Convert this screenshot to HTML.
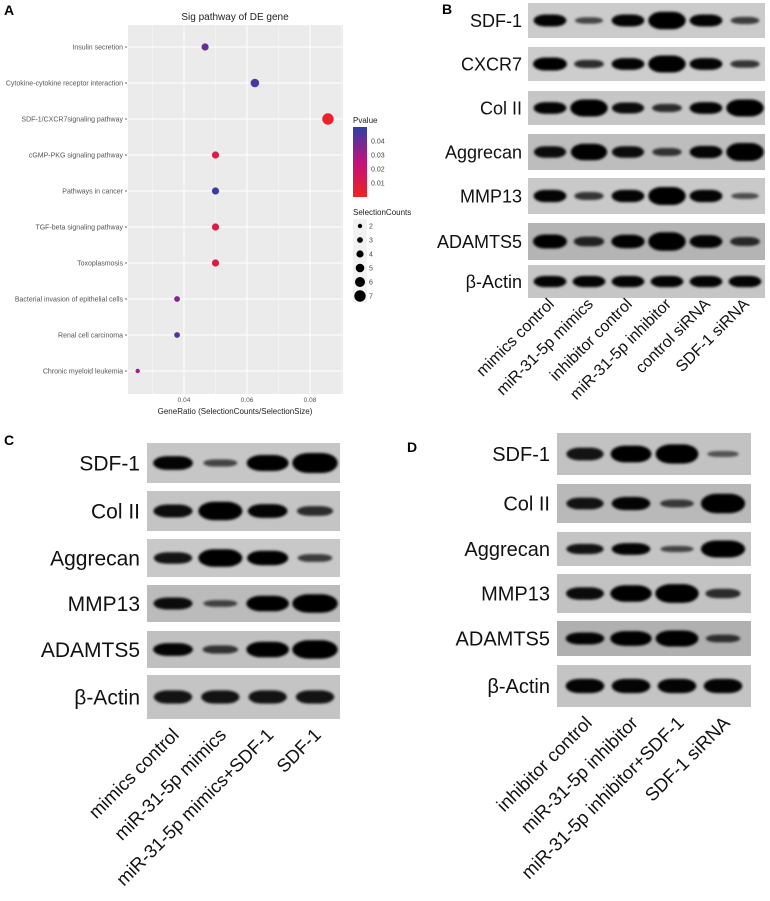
<!DOCTYPE html>
<html><head><meta charset="utf-8"><style>
html,body{margin:0;padding:0;background:#fff;}
svg{display:block;font-family:"Liberation Sans",Arial,sans-serif;}
</style></head><body>
<svg id="fig" width="770" height="901" viewBox="0 0 770 901" xmlns="http://www.w3.org/2000/svg">
<defs>
<filter id="blur" x="-20%" y="-50%" width="140%" height="200%"><feGaussianBlur stdDeviation="1.2"/></filter>
<linearGradient id="pgrad" x1="0" y1="1" x2="0" y2="0">
<stop offset="0" stop-color="#ee2222"/><stop offset="0.5" stop-color="#c0127a"/><stop offset="1" stop-color="#2f3fa8"/>
</linearGradient>
</defs>
<g id="panelA"></g>
<g id="panelB"></g>
<g id="panelC"></g>
<g id="panelD"></g>
</svg>
<script>
// ---------- Panel A data ----------
const pathways = ["Insulin secretion","Cytokine-cytokine receptor interaction","SDF-1/CXCR7signaling pathway","cGMP-PKG signaling pathway","Pathways in cancer","TGF-beta signaling pathway","Toxoplasmosis","Bacterial invasion of epithelial cells","Renal cell carcinoma","Chronic myeloid leukemia"];
const geneRatio = [0.0467,0.0625,0.0857,0.05,0.05,0.05,0.05,0.0378,0.0378,0.0253];
const selCounts = [4,5,7,4,4,4,4,3,3,2];
const pvalues = [0.040,0.045,0.002,0.010,0.048,0.010,0.010,0.036,0.043,0.030];
const xTicks = [0.04,0.06,0.08];
const pTicks = [0.04,0.03,0.02,0.01];
const sizeLegend = [2,3,4,5,6,7];

// ---------- Blot data ----------
const proteinsB = ["SDF-1","CXCR7","Col II","Aggrecan","MMP13","ADAMTS5","β-Actin"];
const lanesB = ["mimics control","miR-31-5p mimics","inhibitor control","miR-31-5p inhibitor","control siRNA","SDF-1 siRNA"];
const intensB = [[0.6,0.2,0.6,1,0.6,0.25],[0.7,0.35,0.6,1,0.6,0.3],[0.6,1,0.55,0.35,0.6,1],[0.55,0.9,0.55,0.3,0.6,1],[0.6,0.3,0.6,1,0.6,0.15],[0.7,0.4,0.65,1,0.6,0.35],[0.6,0.6,0.6,0.6,0.6,0.6]];
const proteinsC = ["SDF-1","Col II","Aggrecan","MMP13","ADAMTS5","β-Actin"];
const lanesC = ["mimics control","miR-31-5p mimics","miR-31-5p mimics+SDF-1","SDF-1"];
const intensC = [[0.6,0.2,0.75,1],[0.55,0.9,0.6,0.35],[0.5,0.9,0.7,0.25],[0.55,0.2,0.8,1],[0.6,0.3,0.8,1],[0.5,0.5,0.5,0.5]];
const proteinsD = ["SDF-1","Col II","Aggrecan","MMP13","ADAMTS5","β-Actin"];
const lanesD = ["inhibitor control","miR-31-5p inhibitor","miR-31-5p inhibitor+SDF-1","SDF-1 siRNA"];
const intensD = [[0.5,0.75,0.9,0.1],[0.5,0.6,0.25,1],[0.5,0.6,0.2,1],[0.55,0.8,0.95,0.35],[0.6,0.8,0.9,0.3],[0.6,0.6,0.6,0.6]];

const NS="http://www.w3.org/2000/svg";
function mk(tag, attrs, parent, text){
  const e=document.createElementNS(NS,tag);
  for(const k in attrs) e.setAttribute(k,attrs[k]);
  if(text!==undefined) e.textContent=text;
  parent.appendChild(e); return e;
}

// ---------- Panel A ----------
(function(){
  const g=document.getElementById('panelA');
  const L=128,R=343,T=25,B=394;
  const xs=v=>184+(v-0.04)*3150;
  const ys=i=>47+i*36;
  const rs=c=>0.8+c*0.7;
  function pcol(p){
    const t=Math.max(0,Math.min(1,p/0.05));
    const stops=[[238,34,34],[192,18,122],[47,63,168]];
    let a,b,u;
    if(t<0.5){a=stops[0];b=stops[1];u=t/0.5;}else{a=stops[1];b=stops[2];u=(t-0.5)/0.5;}
    return `rgb(${a.map((x,i)=>Math.round(x+(b[i]-x)*u)).join(',')})`;
  }
  let e=mk('text',{x:4,y:15,'font-size':14,'font-weight':'bold',fill:'#000'},g,'A');
  
  
  e=mk('text',{x:235,y:20,'font-size':10,'text-anchor':'middle',fill:'#222'},g,'Sig pathway of DE gene');
  
  
  e=mk('rect',{x:L,y:T,width:R-L,height:B-T,fill:'#ebebeb'},g);
  
  
  [0.03,0.05,0.07,0.09].forEach(v=>{
    if(xs(v)>L&&xs(v)<R){
      const l=mk('line',{x1:xs(v),x2:xs(v),y1:T,y2:B,stroke:'#f6f6f6','stroke-width':0.6},g);
      
      
    }
  });
  xTicks.forEach(v=>{
    const l=mk('line',{x1:xs(v),x2:xs(v),y1:T,y2:B,stroke:'#fff','stroke-width':1},g);
    
    
    const t=mk('text',{x:xs(v),y:B+8,'font-size':6.5,'text-anchor':'middle',fill:'#555'},g,v.toFixed(2));
    
    
  });
  pathways.forEach((p,i)=>{
    const l=mk('line',{x1:L,x2:R,y1:ys(i),y2:ys(i),stroke:'#fff','stroke-width':1},g);
    
    
    const tk=mk('line',{x1:L-3,x2:L-1,y1:ys(i),y2:ys(i),stroke:'#444','stroke-width':0.8},g);
    
    
    const t=mk('text',{x:L-5,y:ys(i)+2.5,'font-size':7,'text-anchor':'end',fill:'#555'},g,p);
    
    
  });
  pathways.forEach((p,i)=>{
    const c=mk('circle',{cx:xs(geneRatio[i]),cy:ys(i),r:rs(selCounts[i]),fill:pcol(pvalues[i])},g);
    
    
  });
  e=mk('text',{x:235,y:414,'font-size':8,'text-anchor':'middle',fill:'#222'},g,'GeneRatio (SelectionCounts/SelectionSize)');
  
  
  e=mk('text',{x:353,y:123,'font-size':8,fill:'#222'},g,'Pvalue');
  
  
  e=mk('rect',{x:353,y:127,width:14,height:70,fill:'url(#pgrad)'},g);
  
  
  const pys=p=>197-(p/0.05)*70;
  pTicks.forEach(p=>{
    const t=mk('text',{x:371,y:pys(p)+2.5,'font-size':7,fill:'#444'},g,p.toFixed(2));
    
    
  });
  e=mk('text',{x:353,y:215,'font-size':8,fill:'#222'},g,'SelectionCounts');
  
  
  sizeLegend.forEach((c,i)=>{
    const y=226+i*14;
    const bg=mk('rect',{x:353,y:y-7,width:14,height:14,fill:'#f2f2f2'},g);
    
    
    const ci=mk('circle',{cx:360,cy:y,r:rs(c),fill:'#000'},g);
    
    
    const t=mk('text',{x:369,y:y+2.5,'font-size':7,fill:'#444'},g,String(c));
    
    
  });
})();

// ---------- Blots ----------
function drawBlot(gid, cfg, proteins, lanes, intens){
  const g=document.getElementById(gid);
  let e=mk('text',{x:cfg.lx,y:cfg.ly,'font-size':14,'font-weight':'bold',fill:'#000'},g,cfg.letter);
  
  
  const sp=(cfg.laneX[cfg.laneX.length-1]-cfg.laneX[0])/(lanes.length-1);
  proteins.forEach((p,r)=>{
    const [y0,y1]=cfg.rows[r];
    const st=mk('rect',{x:cfg.x0,y:y0,width:cfg.x1-cfg.x0,height:y1-y0,fill:cfg.bg[r]||'#c4c4c4'},g);
    
    
    const t=mk('text',{x:cfg.labX,y:(y0+y1)/2+cfg.fs*0.36,'font-size':cfg.fs,'text-anchor':'end',fill:'#111'},g,p);
    
    
    intens[r].forEach((v,i)=>{
      const cx=cfg.laneX[0]+i*sp, cy=(y0+y1)/2;
      const w=sp*(0.66+0.3*v), h=(4+15*v)*(y1-y0)/38;
      const b=mk('rect',{x:cx-w/2,y:cy-h/2,width:w,height:h,rx:w/2.8,ry:h/2,fill:'#050505','fill-opacity':0.5+0.5*Math.min(1,v*1.6),filter:'url(#blur)'},g);
      
      
    });
  });
  lanes.forEach((l,i)=>{
    const ax=cfg.laneX[0]+i*sp+cfg.dx, ay=cfg.ay;
    const t=mk('text',{x:ax,y:ay,'font-size':cfg.lfs,'text-anchor':'end',fill:'#111',transform:`rotate(-45 ${ax} ${ay})`},g,l);
    
    
  });
}
drawBlot('panelB',{letter:'B',lx:442,ly:14,x0:528,x1:765,labX:522,fs:18,lfs:16,dx:5,ay:305,
  laneX:[550,745],
  rows:[[3,38],[47,81],[91,125],[134,170],[178,214],[223,260],[265,298]],
  bg:['#cbcbcb','#cdcdcd','#c6c6c6','#bdbdbd','#c9c9c9','#b4b4b4','#c6c6c6']},proteinsB,lanesB,intensB);
drawBlot('panelC',{letter:'C',lx:4,ly:445,x0:147,x1:340,labX:140,fs:21,lfs:18.5,dx:7,ay:736,
  laneX:[173,315],
  rows:[[443,483],[491,531],[539,577],[585,622],[631,668],[675,719]],
  bg:['#c6c6c6','#c4c4c4','#c8c8c8','#bbbbbb','#c0c0c0','#c4c4c4']},proteinsC,lanesC,intensC);
drawBlot('panelD',{letter:'D',lx:407,ly:452,x0:557,x1:751,labX:550,fs:20,lfs:18.5,dx:8,ay:724,
  laneX:[585,723],
  rows:[[433,475],[484,523],[532,566],[574,613],[621,656],[665,707]],
  bg:['#c2c2c2','#b9b9b9','#c4c4c4','#c2c2c2','#b0b0b0','#c4c4c4']},proteinsD,lanesD,intensD);
</script>
</body></html>
